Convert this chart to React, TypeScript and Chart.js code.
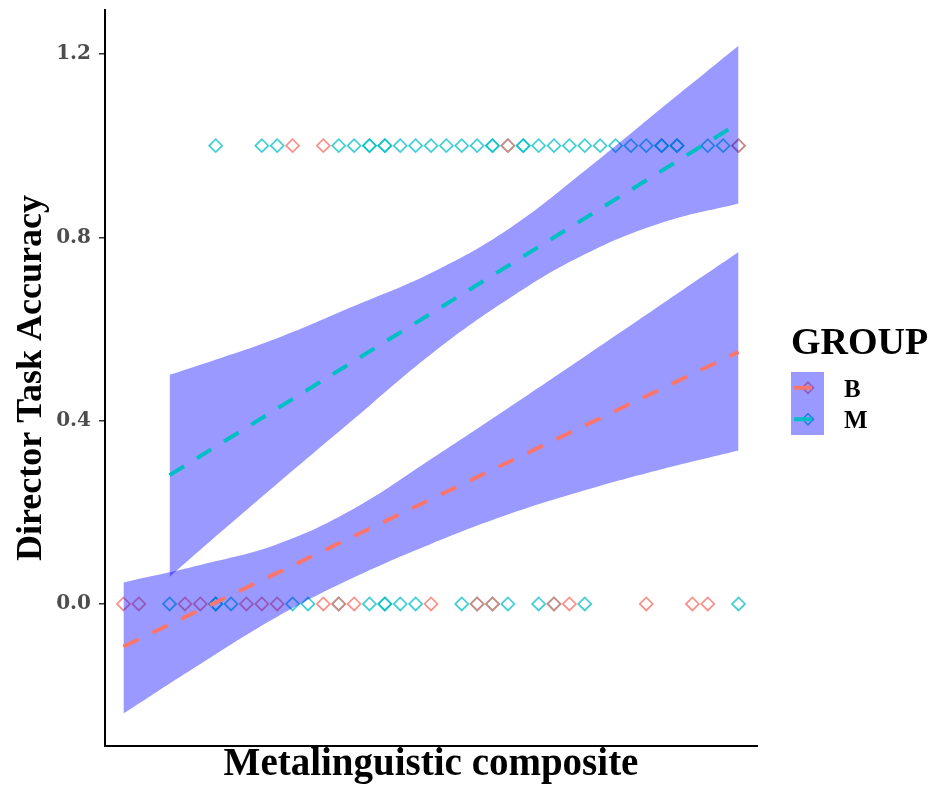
import React, { useEffect, useRef } from "react";
import { Chart, registerables } from "chart.js";

Chart.register(...registerables);

// ---------- data ----------
const groups = ["B", "M"];
const legendTitle = "GROUP";
const xTitle = "Metalinguistic composite";
const yTitle = "Director Task Accuracy";
const yTicks = [0, 0.4, 0.8, 1.2];

// Observed points (x = composite score), accurate (y = 1) and inaccurate (y = 0)
const bAccurateX = [-0.9, -0.7, 0.5, 2.0];
const mAccurateX = [
  -1.4, -1.1, -1.0, -0.6, -0.5, -0.4, -0.4, -0.3, -0.3, -0.2, -0.1, 0.0, 0.1, 0.2,
  0.3, 0.4, 0.4, 0.5, 0.6, 0.6, 0.7, 0.8, 0.9, 1.0, 1.1, 1.2, 1.3, 1.4, 1.5, 1.5,
  1.6, 1.6, 1.8, 1.9, 2.0,
];
const bInaccurateX = [
  -2.0, -1.9, -1.6, -1.5, -1.2, -1.1, -1.0, -0.7, -0.6, -0.5, 0.0, 0.3, 0.4, 0.8,
  0.9, 1.4, 1.7, 1.8,
];
const mInaccurateX = [
  -1.7, -1.4, -1.4, -1.3, -0.9, -0.8, -0.6, -0.4, -0.3, -0.3, -0.2, -0.1, 0.2, 0.3,
  0.4, 0.5, 0.7, 0.8, 1.0, 2.0,
];

// Fitted lines
const bFitX = [-2.0, 2.0];
const bFitY = [-0.093, 0.55];
const mFitX = [-1.7, 2.0];
const mFitY = [0.281, 1.049];

// Confidence bands
const bBandX = [-2.0, -1.5, -1.0, -0.5, 0.0, 0.5, 1.0, 1.5, 2.0];
const bBandUpper = [0.047, 0.085, 0.13, 0.208, 0.316, 0.427, 0.54, 0.654, 0.768];
const bBandLower = [-0.239, -0.131, -0.028, 0.058, 0.131, 0.195, 0.248, 0.294, 0.335];
const mBandX = [-1.7, -1.5, -1.0, -0.5, 0.0, 0.5, 1.0, 1.5, 2.0];
const mBandUpper = [0.5, 0.522, 0.58, 0.65, 0.722, 0.817, 0.945, 1.082, 1.218];
const mBandLower = [0.059, 0.118, 0.262, 0.404, 0.545, 0.665, 0.763, 0.832, 0.874];

// ---------- styles ----------
const B_COLOR = "#F8766D";
const M_COLOR = "#00BFC4";
const B_POINT = "rgba(248,118,109,0.8)";
const M_POINT = "rgba(0,191,196,0.75)";
const BAND = "rgba(0,0,255,0.4)";
const SERIF = '"Liberation Serif", "Times New Roman", serif';

const xy = (xs: number[], ys: number[]) => xs.map((x, i) => ({ x, y: ys[i] }));
const row = (xs: number[], y: number) => xs.map((x) => ({ x, y }));

function drawDiamond(ctx: CanvasRenderingContext2D, cx: number, cy: number, r: number, color: string) {
  ctx.beginPath();
  ctx.moveTo(cx, cy - r);
  ctx.lineTo(cx + r, cy);
  ctx.lineTo(cx, cy + r);
  ctx.lineTo(cx - r, cy);
  ctx.closePath();
  ctx.strokeStyle = color;
  ctx.lineWidth = 1.6;
  ctx.stroke();
}

const legendPlugin = {
  id: "groupLegend",
  afterDraw(chart: any) {
    const ctx: CanvasRenderingContext2D = chart.ctx;
    ctx.save();
    ctx.fillStyle = "#000";
    ctx.textAlign = "left";
    ctx.textBaseline = "alphabetic";
    ctx.font = `bold 38px ${SERIF}`;
    ctx.fillText(legendTitle, 791, 354);
    const keyColors = [B_COLOR, M_COLOR];
    const keyPoint = [B_POINT, M_POINT];
    const keyTop = 372;
    const keyH = 31.5;
    groups.forEach((g, i) => {
      const cy = keyTop + keyH * i + keyH / 2;
      drawDiamond(ctx, 808, cy, 5.5, keyPoint[i]);
    });
    ctx.fillStyle = BAND;
    ctx.fillRect(791, keyTop, 33, keyH * groups.length);
    groups.forEach((g, i) => {
      const cy = keyTop + keyH * i + keyH / 2;
      ctx.beginPath();
      ctx.moveTo(794, cy);
      ctx.lineTo(812, cy);
      ctx.strokeStyle = keyColors[i];
      ctx.lineWidth = 4;
      ctx.stroke();
      ctx.fillStyle = "#000";
      ctx.font = `bold 25px ${SERIF}`;
      ctx.fillText(g, 844, cy + 9);
    });
    ctx.restore();
  },
};

export default function App() {
  const ref = useRef<HTMLCanvasElement>(null);
  useEffect(() => {
    const canvas = ref.current;
    if (!canvas) return;
    const lineBase = { showLine: true, pointRadius: 0, pointHoverRadius: 0, fill: false, tension: 0 };
    const bandBase = {
      showLine: true,
      pointRadius: 0,
      pointHoverRadius: 0,
      borderWidth: 0,
      borderColor: "rgba(0,0,0,0)",
      backgroundColor: BAND,
      tension: 0.4,
    };
    const pointBase = {
      showLine: false,
      pointStyle: "rectRot",
      pointRadius: 6.5,
      pointHoverRadius: 6.5,
      pointBorderWidth: 1.7,
      pointBackgroundColor: "rgba(0,0,0,0)",
      fill: false,
    };
    const chart = new Chart(canvas, {
      type: "line",
      data: {
        datasets: [
          { ...pointBase, label: "M points", data: [...row(mAccurateX, 1), ...row(mInaccurateX, 0)], pointBorderColor: M_POINT, borderColor: M_POINT, order: 10 },
          { ...pointBase, label: "B points", data: [...row(bAccurateX, 1), ...row(bInaccurateX, 0)], pointBorderColor: B_POINT, borderColor: B_POINT, order: 9 },
          { ...bandBase, label: "B upper", data: xy(bBandX, bBandUpper), fill: { target: 3 }, order: 8 },
          { ...bandBase, label: "B lower", data: xy(bBandX, bBandLower), fill: false, order: 7 },
          { ...bandBase, label: "M upper", data: xy(mBandX, mBandUpper), fill: { target: 5 }, order: 6 },
          { ...bandBase, label: "M lower", data: xy(mBandX, mBandLower), fill: false, order: 5 },
          { ...lineBase, label: "B fit", data: xy(bFitX, bFitY), borderColor: B_COLOR, borderWidth: 4, borderDash: [17, 15], order: 2 },
          { ...lineBase, label: "M fit", data: xy(mFitX, mFitY), borderColor: M_COLOR, borderWidth: 4, borderDash: [17, 15], order: 1 },
        ] as any,
      },
      options: {
        animation: false,
        responsive: false,
        events: [],
        layout: { padding: { top: 10, right: 179, bottom: 0, left: 0 } },
        plugins: {
          legend: { display: false },
          tooltip: { enabled: false },
          title: { display: false },
        },
        scales: {
          x: {
            type: "linear",
            min: -2.12,
            max: 2.12,
            grid: { display: false },
            ticks: { display: false },
            border: { display: true, color: "#000", width: 2 },
            title: {
              display: true,
              text: xTitle,
              color: "#000",
              font: { family: SERIF, size: 39, weight: "bold" },
              padding: { top: 0, bottom: 2 },
            },
            afterFit: (s: any) => {
              s.height = 44;
              s.paddingLeft = 0;
              s.paddingRight = 0;
            },
          },
          y: {
            type: "linear",
            min: -0.31,
            max: 1.296,
            afterBuildTicks: (s: any) => {
              s.ticks = yTicks.map((v) => ({ value: v }));
            },
            grid: { display: true, drawOnChartArea: false, drawTicks: true, tickLength: 6, color: "#333", lineWidth: 1.5 },
            border: { display: true, color: "#000", width: 2 },
            ticks: {
              padding: 8,
              color: "#4d4d4d",
              font: { family: '"DejaVu Serif", serif', size: 20, weight: "bold" },
              callback: (v: any) => Number(v).toFixed(1),
            },
            title: {
              display: true,
              text: yTitle,
              color: "#000",
              font: { family: SERIF, size: 36, weight: "bold" },
              padding: { top: 10, bottom: 0 },
            },
            afterFit: (s: any) => {
              s.width = 105;
              s.paddingTop = 0;
              s.paddingBottom = 0;
            },
          },
        },
      } as any,
      plugins: [legendPlugin],
    });
    return () => chart.destroy();
  }, []);
  return (
    <div style={{ position: "absolute", left: 0, top: 0, width: 936, height: 790, background: "#fff" }}>
      <canvas ref={ref} width={936} height={790} style={{ display: "block" }} />
    </div>
  );
}
